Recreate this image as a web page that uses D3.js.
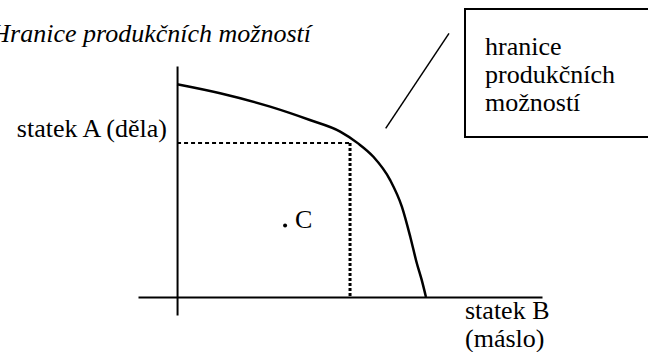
<!DOCTYPE html>
<html>
<head>
<meta charset="utf-8">
<script src="https://cdn.jsdelivr.net/npm/d3@7"></script>
<style>
  html, body { margin: 0; padding: 0; overflow: hidden; background: #fff; }
  svg { display: block; overflow: hidden; }
  text { font-family: "Times New Roman", "Liberation Serif", serif; font-size: 26px; fill: #000; }
</style>
</head>
<body>
<div id="chart"></div>
<script>
// frontier points (good B, good A) in arbitrary units
var frontierB = [0, 11.8, 25.5, 36.4, 44.7, 49.6, 53.8, 58.4, 61.6, 63.9, 65.7, 67.0, 68.2];
var frontierA = [92.1, 88.2, 82.4, 76.6, 71.6, 66.5, 60.7, 50.6, 39.1, 26.1, 14.6, 7.6, 0];

// point on the frontier marked by dashed lines
var markB = 47.4;
var markA = 66.7;

// inefficient point C
var pointC = { b: 29.6, a: 30.9, label: "C" };

var titleText = "Hranice produkčních možností";
var yLabel = "statek A (děla)";
var xLabel = ["statek B", "(máslo)"];
var boxLines = ["hranice", "produkčních", "možností"];

var width = 648;
var height = 352;

var svg = d3.select("#chart")
  .append("svg")
  .attr("width", width)
  .attr("height", height);

var xScale = d3.scaleLinear()
  .domain([-10.7, 100])
  .range([138, 542]);

var yScale = d3.scaleLinear()
  .domain([-7.8, 100])
  .range([315, 66]);

// axes are bare lines, no ticks
var xAxis = d3.axisBottom(xScale).tickValues([]).tickSizeOuter(0);
var yAxis = d3.axisLeft(yScale).tickValues([]).tickSizeOuter(0);

svg.append("g")
  .attr("transform", "translate(0," + yScale(0) + ")")
  .call(xAxis)
  .call(function(g) { g.select(".domain").attr("stroke", "#000").attr("stroke-width", 2); });

svg.append("g")
  .attr("transform", "translate(" + xScale(0) + ",0)")
  .call(yAxis)
  .call(function(g) { g.select(".domain").attr("stroke", "#000").attr("stroke-width", 2); });

// dashed guides to the marked point
svg.append("line")
  .attr("x1", xScale(0))
  .attr("y1", yScale(markA))
  .attr("x2", xScale(markB))
  .attr("y2", yScale(markA))
  .attr("stroke", "#000")
  .attr("stroke-width", 2)
  .attr("stroke-dasharray", "4,3");

svg.append("line")
  .attr("x1", xScale(markB))
  .attr("y1", yScale(markA))
  .attr("x2", xScale(markB))
  .attr("y2", yScale(0))
  .attr("stroke", "#000")
  .attr("stroke-width", 3)
  .attr("stroke-dasharray", "3,2");

// the frontier curve
var frontier = frontierB.map(function(b, i) {
  return { b: b, a: frontierA[i] };
});

var line = d3.line()
  .x(function(d) { return xScale(d.b); })
  .y(function(d) { return yScale(d.a); })
  .curve(d3.curveMonotoneX);

svg.append("path")
  .datum(frontier)
  .attr("d", line)
  .attr("fill", "none")
  .attr("stroke", "#000")
  .attr("stroke-width", 2.5);

// point C
svg.append("circle")
  .attr("cx", xScale(pointC.b))
  .attr("cy", yScale(pointC.a))
  .attr("r", 2)
  .attr("fill", "#000");

svg.append("text")
  .attr("x", xScale(pointC.b) + 10)
  .attr("y", yScale(pointC.a) + 2)
  .text(pointC.label);

// title (runs off the left edge in the original)
svg.append("text")
  .attr("x", 311)
  .attr("y", 42)
  .attr("text-anchor", "end")
  .style("font-style", "italic")
  .text(titleText);

// axis labels
svg.append("text")
  .attr("x", 167)
  .attr("y", 137)
  .attr("text-anchor", "end")
  .text(yLabel);

svg.selectAll(".xLabel")
  .data(xLabel)
  .enter()
  .append("text")
  .attr("class", "xLabel")
  .attr("x", 465)
  .attr("y", function(d, i) { return 319 + i * 28; })
  .text(function(d) { return d; });

// callout line and box (box runs off the right edge)
svg.append("line")
  .attr("x1", 385.7)
  .attr("y1", 128.3)
  .attr("x2", 449)
  .attr("y2", 33.3)
  .attr("stroke", "#000")
  .attr("stroke-width", 1.5);

svg.append("path")
  .attr("d", "M" + (width + 10) + ",9H465V137H" + (width + 10))
  .attr("fill", "none")
  .attr("stroke", "#000")
  .attr("stroke-width", 2);

svg.selectAll(".boxText")
  .data(boxLines)
  .enter()
  .append("text")
  .attr("class", "boxText")
  .attr("x", 485)
  .attr("y", function(d, i) { return 55 + i * 28; })
  .text(function(d) { return d; });
</script>
</body>
</html>
